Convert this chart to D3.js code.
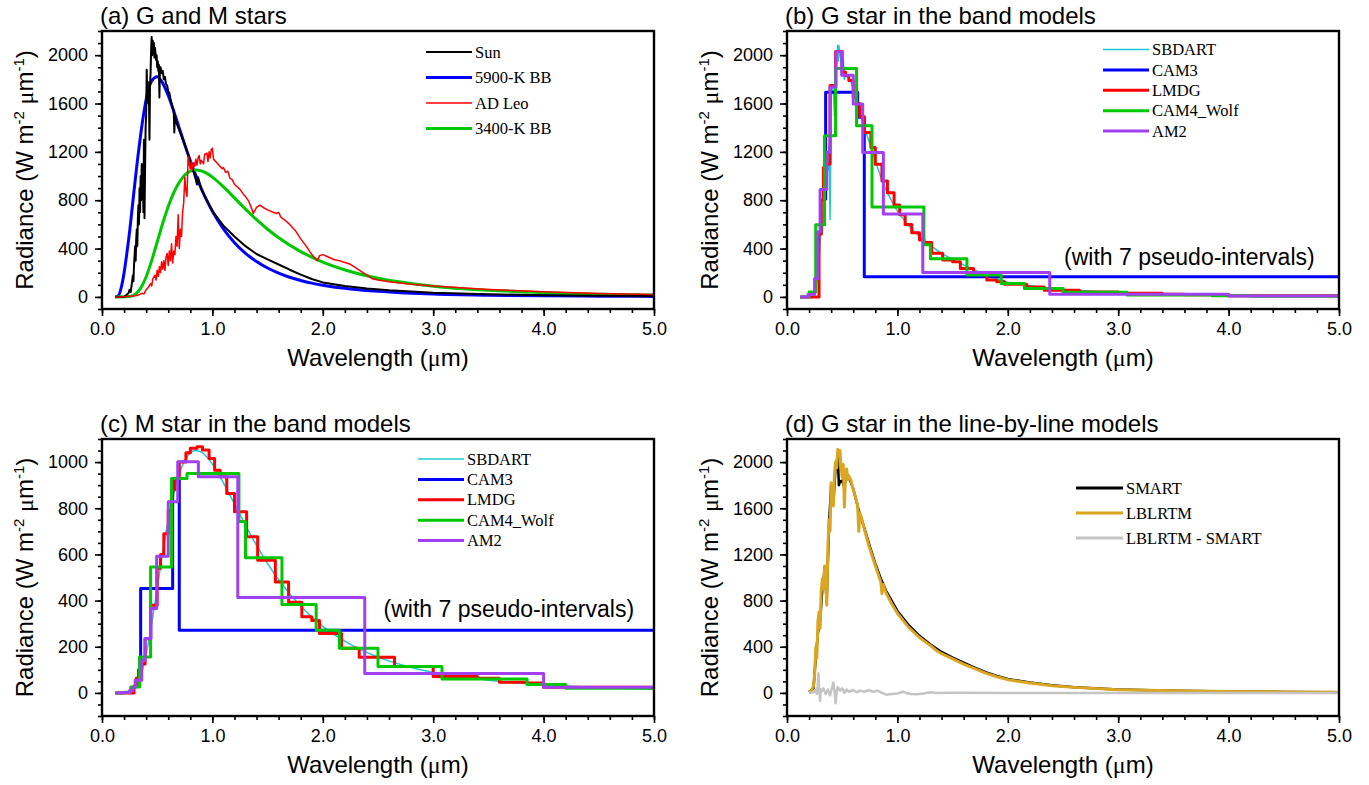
<!DOCTYPE html>
<html><head><meta charset="utf-8">
<script src="https://cdn.jsdelivr.net/npm/d3@7"></script>
<style>body{margin:0;background:#fff}</style>
</head><body>
<svg id="chart" width="1369" height="785"></svg>
<script>
// ---------------- DATA (wavelength in µm, radiance in W m-2 µm-1) ----------------
const xTickLabels = [0, 1, 2, 3, 4, 5];
const yTicksG = [0, 400, 800, 1200, 1600, 2000];
const yTicksM = [0, 200, 400, 600, 800, 1000];

// (a) G and M stars
const sunSpectrum = [[0.12,0],[0.2,0],[0.22,15],[0.24,30],[0.25,60],[0.26,40],[0.27,110],[0.28,180],[0.285,130],[0.29,260],[0.3,420],[0.305,300],[0.31,480],[0.315,560],[0.32,420],[0.325,650],[0.33,760],[0.335,600],[0.34,900],[0.345,700],[0.35,1000],[0.355,800],[0.36,1100],[0.365,900],[0.37,1050],[0.375,700],[0.38,1300],[0.383,1100],[0.385,650],[0.39,1050],[0.395,1400],[0.4,1500],[0.405,1880],[0.41,1650],[0.415,1780],[0.42,1600],[0.425,1700],[0.43,1300],[0.435,1750],[0.44,1850],[0.445,2050],[0.45,2150],[0.455,2000],[0.46,2120],[0.465,2050],[0.47,2100],[0.475,1980],[0.48,2060],[0.49,1960],[0.495,2000],[0.5,1900],[0.505,1950],[0.51,1870],[0.515,1920],[0.52,1650],[0.525,1880],[0.53,1900],[0.54,1850],[0.55,1870],[0.56,1800],[0.57,1820],[0.58,1760],[0.59,1750],[0.6,1700],[0.61,1690],[0.62,1640],[0.63,1600],[0.64,1560],[0.65,1540],[0.655,1360],[0.66,1500],[0.67,1450],[0.7,1380],[0.75,1260],[0.8,1120],[0.85,970],[0.86,930],[0.87,990],[0.9,890],[0.95,800],[1.0,710],[1.1,590],[1.2,500],[1.3,420],[1.4,355],[1.5,310],[1.6,268],[1.7,225],[1.8,185],[1.9,148],[2.0,120],[2.2,90],[2.4,70],[2.6,55],[3.0,35],[3.5,22],[4.0,14],[4.5,10],[5.0,7]];
const bb5900 = [[0.12,0],[0.15,12],[0.175,80],[0.2,200],[0.225,360],[0.25,540],[0.275,750],[0.3,960],[0.325,1160],[0.35,1340],[0.375,1500],[0.4,1633],[0.45,1788],[0.5,1822],[0.55,1768],[0.6,1666],[0.65,1536],[0.7,1396],[0.75,1258],[0.8,1127],[0.85,1005],[0.9,895],[0.95,796],[1.0,709],[1.1,563],[1.2,449],[1.3,361],[1.4,293],[1.5,239],[1.6,197],[1.7,163],[1.8,136],[1.9,114],[2.0,97],[2.25,66],[2.5,46],[2.75,33],[3.0,24],[3.5,14],[4.0,8.6],[4.5,6],[5.0,3.8]];
const adLeo = [[0.12,0],[0.2,2],[0.25,5],[0.3,10],[0.33,15],[0.36,30],[0.38,25],[0.4,60],[0.42,80],[0.44,110],[0.45,90],[0.46,150],[0.48,180],[0.49,140],[0.5,220],[0.51,170],[0.52,250],[0.53,200],[0.54,290],[0.55,230],[0.56,300],[0.57,220],[0.58,330],[0.59,360],[0.6,260],[0.61,380],[0.62,300],[0.63,440],[0.64,280],[0.65,380],[0.66,350],[0.67,500],[0.68,420],[0.69,680],[0.7,400],[0.71,560],[0.72,500],[0.73,700],[0.74,780],[0.75,990],[0.76,880],[0.77,830],[0.78,1160],[0.79,1100],[0.8,1060],[0.81,1120],[0.82,1050],[0.83,1110],[0.84,1080],[0.85,1140],[0.86,1090],[0.87,1150],[0.88,1170],[0.89,1100],[0.9,1130],[0.92,1100],[0.93,1180],[0.95,1190],[0.96,1120],[0.97,1200],[0.98,1150],[0.99,1220],[1.0,1230],[1.01,1140],[1.03,1120],[1.05,1100],[1.07,1080],[1.09,1060],[1.1,1070],[1.12,1030],[1.14,1040],[1.16,980],[1.18,970],[1.2,930],[1.22,915],[1.25,890],[1.28,850],[1.3,830],[1.33,790],[1.36,720],[1.37,690],[1.4,740],[1.43,760],[1.46,740],[1.5,720],[1.55,700],[1.58,690],[1.6,700],[1.62,660],[1.65,640],[1.7,600],[1.75,550],[1.8,480],[1.85,420],[1.9,350],[1.95,300],[1.97,340],[2.0,350],[2.05,330],[2.1,310],[2.15,300],[2.2,285],[2.25,270],[2.3,240],[2.35,210],[2.4,180],[2.45,150],[2.5,140],[2.6,125],[2.8,105],[3.0,90],[3.5,62],[4.0,42],[4.5,28],[5.0,20]];
const bb3400 = [[0.12,0],[0.25,3],[0.3,21],[0.35,72],[0.4,167],[0.45,300],[0.5,454],[0.55,609],[0.6,748],[0.65,863],[0.7,949],[0.75,1008],[0.8,1040],[0.85,1050],[0.9,1043],[0.95,1022],[1.0,991],[1.1,910],[1.2,819],[1.3,726],[1.4,639],[1.5,560],[1.6,490],[1.8,375],[2.0,288],[2.25,210],[2.5,155],[2.75,117],[3.0,89],[3.5,55],[4.0,35],[4.5,23],[5.0,16]];

// (b) G star in the band models
const sbdartG = [[0.12,0],[0.2,0],[0.22,10],[0.25,40],[0.27,120],[0.29,300],[0.3,450],[0.31,560],[0.32,520],[0.33,800],[0.34,900],[0.35,1000],[0.36,1200],[0.37,1050],[0.38,1250],[0.385,1000],[0.39,640],[0.395,1100],[0.4,1650],[0.41,1750],[0.42,1700],[0.43,1500],[0.44,1800],[0.45,1950],[0.46,2080],[0.465,1950],[0.47,2080],[0.48,2000],[0.49,1950],[0.5,1880],[0.51,1960],[0.52,1800],[0.53,1850],[0.55,1820],[0.58,1780],[0.6,1720],[0.65,1560],[0.7,1400],[0.75,1270],[0.8,1130],[0.85,990],[0.9,880],[0.95,790],[1.0,710],[1.1,590],[1.2,500],[1.3,425],[1.4,360],[1.5,310],[1.6,265],[1.7,222],[1.8,185],[1.9,150],[2.0,122],[2.2,92],[2.4,70],[2.6,55],[3.0,35],[3.5,22],[4.0,14],[4.5,10],[5.0,7]];
const cam3Edges = [0.35, 0.64, 0.70, 5.0];
const cam3G = [1694, 1486, 167];
const cam3GStart = 800;
const lmdgEdges = [0.12,0.29,0.31,0.33,0.35,0.39,0.44,0.5,0.53,0.56,0.6,0.63,0.66,0.7,0.76,0.8,0.86,0.91,0.97,1.02,1.07,1.13,1.2,1.24,1.31,1.41,1.5,1.57,1.69,1.81,1.9,1.97,2.17,2.33,2.65,3.0,3.4,3.6,3.85,4.0,5.0];
const lmdgG = [0,520,800,1070,1100,1750,2030,1860,1830,1790,1650,1600,1490,1361,1236,1097,958,861,760,680,600,530,470,450,361,306,290,236,190,140,125,105,83,55,40,30,22,18,15,10];
const cam4Edges = [0.12,0.2,0.26,0.34,0.44,0.63,0.77,1.24,1.3,1.63,1.94,2.15,2.5,3.08,3.85,4.2,5.0];
const cam4G = [0,40,597,1333,1889,1417,744,431,315,181,111,69,38,16,10,5];
const am2Edges = [0.12,0.19,0.25,0.28,0.30,0.36,0.39,0.444,0.495,0.6,0.686,0.873,1.23,2.38,4.0,5.0];
const am2G = [0,20,153,540,889,1194,1736,2028,1833,1597,1194,686,203,22,8];

// (c) M star in the band models
const sbdartM = [[0.12,0],[0.25,3],[0.3,21],[0.35,72],[0.4,167],[0.45,300],[0.5,454],[0.55,609],[0.6,748],[0.65,863],[0.7,949],[0.75,1008],[0.8,1040],[0.85,1050],[0.9,1043],[0.95,1022],[1.0,991],[1.1,910],[1.2,819],[1.3,726],[1.4,639],[1.5,560],[1.6,490],[1.8,375],[2.0,288],[2.25,210],[2.5,155],[2.75,117],[3.0,89],[3.5,55],[4.0,35],[4.5,23],[5.0,16]];
const cam3M = [452, 922, 272];
const cam3MStart = 140;
const lmdgM = [0,30,64,100,125,235,380,540,600,690,790,880,930,1000,1040,1060,1066,1052,1016,965,936,864,785,785,676,575,575,481,393,330,314,257,193,155,114,71,64,46,43,25];
const cam4M = [0,3,26,156,546,929,951,743,586,383,271,193,114,60,36,20];
const am2M = [0,2,10,25,55,142,236,366,592,828,1001,936,413,84,25];

// (d) G star in the line-by-line models
const smart = [[0.2,8],[0.24,40],[0.26,300],[0.28,520],[0.3,620],[0.32,900],[0.34,1050],[0.36,800],[0.38,1450],[0.4,1800],[0.42,1650],[0.44,1950],[0.46,2050],[0.47,1800],[0.48,1830],[0.5,1840],[0.52,1780],[0.54,1900],[0.56,1870],[0.6,1770],[0.65,1580],[0.7,1430],[0.75,1270],[0.8,1120],[0.85,990],[0.9,880],[1.0,710],[1.1,590],[1.2,495],[1.3,420],[1.4,355],[1.5,305],[1.6,262],[1.7,220],[1.8,180],[1.9,147],[2.0,120],[2.2,90],[2.4,66],[2.6,50],[3.0,30],[3.5,19],[4.0,13],[4.5,9],[5.0,6]];
const lblrtm = [[0.2,10],[0.22,20],[0.24,58],[0.25,150],[0.26,390],[0.27,300],[0.28,620],[0.29,700],[0.3,560],[0.31,880],[0.32,990],[0.33,900],[0.34,1100],[0.35,1000],[0.36,760],[0.37,1250],[0.38,1500],[0.39,1400],[0.4,1820],[0.41,1750],[0.42,1620],[0.43,1900],[0.44,2000],[0.45,1950],[0.46,2110],[0.47,2050],[0.48,2100],[0.49,1960],[0.5,1870],[0.51,1980],[0.52,1610],[0.53,1900],[0.54,1940],[0.55,1850],[0.56,1880],[0.58,1840],[0.6,1760],[0.62,1700],[0.64,1620],[0.65,1400],[0.66,1560],[0.68,1500],[0.7,1420],[0.74,1280],[0.78,1160],[0.82,1045],[0.85,960],[0.86,860],[0.87,940],[0.9,860],[0.95,770],[1.0,690],[1.1,570],[1.2,480],[1.3,410],[1.35,370],[1.4,340],[1.5,295],[1.6,250],[1.7,210],[1.8,172],[1.9,140],[2.0,115],[2.2,85],[2.4,62],[2.6,48],[3.0,28],[3.5,18],[4.0,12],[4.5,9],[5.0,6]];
const lblMinusSmart = [[0.2,0],[0.24,5],[0.26,30],[0.27,-10],[0.28,80],[0.285,170],[0.29,60],[0.3,-70],[0.305,30],[0.31,10],[0.33,40],[0.35,-10],[0.37,30],[0.39,-20],[0.41,50],[0.42,90],[0.43,20],[0.44,-90],[0.45,10],[0.46,50],[0.48,20],[0.5,40],[0.52,0],[0.54,30],[0.56,10],[0.6,25],[0.63,5],[0.66,20],[0.7,10],[0.74,25],[0.78,10],[0.82,20],[0.86,0],[0.9,-15],[0.95,-10],[1.0,-5],[1.05,10],[1.08,0],[1.12,-10],[1.18,-12],[1.24,-5],[1.3,5],[1.35,0],[1.5,2],[2.0,0],[3.0,0],[5.0,0]];

// ---------------- DRAWING ----------------
const svg = d3.select('#chart');
const SANS = '"Liberation Sans", Arial, Helvetica, sans-serif';
const SERIF = '"Liberation Serif", "Times New Roman", serif';
const C = {black:'#000000', blue:'#0000ff', red:'#ff0000', green:'#00c800', cyan:'#1ec8d2', purple:'#a040f0', gold:'#daa520', gray:'#c4c4c4'};

function stepPoints(edges, vals, start) {
  const pts = [];
  if (start !== undefined) pts.push([edges[0], start]);
  vals.forEach((v, i) => pts.push([edges[i], v]));
  pts.push([edges[edges.length - 1], vals[vals.length - 1]]);
  return pts;
}

function panel(p) {
  const g = svg.append('g').attr('transform', `translate(${p.x},${p.y})`);
  const x = d3.scaleLinear().domain([0, 5]).range([0, p.w]);
  const y = d3.scaleLinear().domain(p.yDomain).range([p.h, 0]);
  const cid = 'clip' + p.key;
  g.append('clipPath').attr('id', cid).append('rect').attr('width', p.w).attr('height', p.h);
  const plot = g.append('g').attr('clip-path', `url(#${cid})`);

  p.series.forEach(s => {
    const line = d3.line().x(d => x(d[0])).y(d => y(d[1]))
      .curve(s.curve || d3.curveLinear);
    plot.append('path').datum(s.data).attr('d', line)
      .attr('fill', 'none').attr('stroke', s.color).attr('stroke-width', s.width)
      .attr('stroke-linejoin', 'round');
  });

  const styleAxis = sel => {
    sel.select('.domain').remove();
    sel.selectAll('line').attr('stroke', '#000').attr('stroke-width', 1.6);
    sel.selectAll('text').attr('font-family', SANS).attr('font-size', 18).attr('fill', '#000');
  };
  const xMinor = d3.range(0, 5.0001, 0.2).map(v => +v.toFixed(2));
  g.append('g').attr('transform', `translate(0,${p.h})`)
    .call(d3.axisBottom(x).tickValues(xMinor).tickSize(4).tickFormat('')).call(styleAxis);
  g.append('g').attr('transform', `translate(0,${p.h})`)
    .call(d3.axisBottom(x).tickValues(xTickLabels).tickSize(7).tickPadding(6).tickFormat(d3.format('.1f'))).call(styleAxis);
  const yMinor = d3.range(p.yDomain[0], p.yDomain[1] + 0.001, p.yMinor);
  g.append('g').call(d3.axisLeft(y).tickValues(yMinor).tickSize(4).tickFormat('')).call(styleAxis);
  g.append('g').call(d3.axisLeft(y).tickValues(p.yTicks).tickSize(7).tickPadding(7).tickFormat(d3.format('d'))).call(styleAxis);

  g.append('rect').attr('width', p.w).attr('height', p.h)
    .attr('fill', 'none').attr('stroke', '#000').attr('stroke-width', 2.4);

  g.append('text').attr('x', -2).attr('y', -7).attr('font-family', SANS).attr('font-size', 24)
    .text(p.title);

  const xl = g.append('text').attr('x', p.w / 2).attr('y', p.h + 57).attr('text-anchor', 'middle')
    .attr('font-family', SANS).attr('font-size', 24);
  xl.append('tspan').text('Wavelength (');
  xl.append('tspan').attr('font-family', SERIF).text('μ');
  xl.append('tspan').text('m)');

  const yl = g.append('text').attr('transform', `translate(-69,${p.h / 2}) rotate(-90)`)
    .attr('text-anchor', 'middle').attr('font-family', SANS).attr('font-size', 24);
  yl.append('tspan').text('Radiance (W m');
  yl.append('tspan').attr('font-size', 15).attr('dy', -9).text('-2');
  yl.append('tspan').attr('dy', 9).text(' ');
  yl.append('tspan').attr('font-family', SERIF).text('μ');
  yl.append('tspan').text('m');
  yl.append('tspan').attr('font-size', 15).attr('dy', -9).text('-1');
  yl.append('tspan').attr('dy', 9).text(')');

  if (p.note) {
    g.append('text').attr('x', x(p.note.x)).attr('y', y(p.note.y))
      .attr('font-family', SANS).attr('font-size', 23).text(p.note.text);
  }

  const lg = p.legend;
  lg.items.forEach((it, i) => {
    const yy = lg.y0 + i * lg.dy;
    g.append('line').attr('x1', lg.x1).attr('x2', lg.x2).attr('y1', yy).attr('y2', yy)
      .attr('stroke', it.color).attr('stroke-width', it.lw);
    g.append('text').attr('x', lg.x2 + 3).attr('y', yy).attr('dy', '0.34em')
      .attr('font-family', SERIF).attr('font-size', 16.5).text(it.label);
  });
}

const W = 552;
panel({key: 'a', x: 102, y: 31, w: W, h: 278, yDomain: [-100, 2200], yTicks: yTicksG, yMinor: 100,
  title: '(a) G and M stars',
  series: [
    {data: bb5900, color: C.blue, width: 3, curve: d3.curveMonotoneX},
    {data: bb3400, color: C.green, width: 3, curve: d3.curveMonotoneX},
    {data: sunSpectrum, color: C.black, width: 2},
    {data: adLeo, color: C.red, width: 1.5}
  ],
  legend: {x1: 324, x2: 370, y0: 21, dy: 25.5, items: [
    {label: 'Sun', color: C.black, lw: 2},
    {label: '5900-K BB', color: C.blue, lw: 3},
    {label: 'AD Leo', color: C.red, lw: 1.5},
    {label: '3400-K BB', color: C.green, lw: 3}]}
});

panel({key: 'b', x: 787, y: 31, w: W, h: 278, yDomain: [-100, 2200], yTicks: yTicksG, yMinor: 100,
  title: '(b) G star in the band models',
  note: {x: 2.51, y: 265, text: '(with 7 pseudo-intervals)'},
  series: [
    {data: sbdartG, color: C.cyan, width: 1.5},
    {data: stepPoints(cam3Edges, cam3G, cam3GStart), color: C.blue, width: 3, curve: d3.curveStepAfter},
    {data: stepPoints(lmdgEdges, lmdgG), color: C.red, width: 3, curve: d3.curveStepAfter},
    {data: stepPoints(cam4Edges, cam4G), color: C.green, width: 3, curve: d3.curveStepAfter},
    {data: stepPoints(am2Edges, am2G), color: C.purple, width: 3, curve: d3.curveStepAfter}
  ],
  legend: {x1: 316, x2: 362, y0: 18.5, dy: 20.4, items: [
    {label: 'SBDART', color: C.cyan, lw: 1.5},
    {label: 'CAM3', color: C.blue, lw: 3},
    {label: 'LMDG', color: C.red, lw: 3},
    {label: 'CAM4_Wolf', color: C.green, lw: 3},
    {label: 'AM2', color: C.purple, lw: 3}]}
});

panel({key: 'c', x: 102, y: 439, w: W, h: 277, yDomain: [-100, 1100], yTicks: yTicksM, yMinor: 50,
  title: '(c) M star in the band models',
  note: {x: 2.55, y: 328, text: '(with 7 pseudo-intervals)'},
  series: [
    {data: sbdartM, color: C.cyan, width: 1.5, curve: d3.curveMonotoneX},
    {data: stepPoints(cam3Edges, cam3M, cam3MStart), color: C.blue, width: 3, curve: d3.curveStepAfter},
    {data: stepPoints(lmdgEdges, lmdgM), color: C.red, width: 3, curve: d3.curveStepAfter},
    {data: stepPoints(cam4Edges, cam4M), color: C.green, width: 3, curve: d3.curveStepAfter},
    {data: stepPoints(am2Edges, am2M), color: C.purple, width: 3, curve: d3.curveStepAfter}
  ],
  legend: {x1: 316, x2: 362, y0: 20, dy: 20.4, items: [
    {label: 'SBDART', color: C.cyan, lw: 1.5},
    {label: 'CAM3', color: C.blue, lw: 3},
    {label: 'LMDG', color: C.red, lw: 3},
    {label: 'CAM4_Wolf', color: C.green, lw: 3},
    {label: 'AM2', color: C.purple, lw: 3}]}
});

panel({key: 'd', x: 787, y: 439, w: W, h: 277, yDomain: [-200, 2200], yTicks: yTicksG, yMinor: 100,
  title: '(d) G star in the line-by-line models',
  series: [
    {data: smart, color: C.black, width: 2.5},
    {data: lblrtm, color: C.gold, width: 3},
    {data: lblMinusSmart, color: C.gray, width: 2.5}
  ],
  legend: {x1: 289, x2: 336, y0: 49, dy: 25, items: [
    {label: 'SMART', color: C.black, lw: 3},
    {label: 'LBLRTM', color: C.gold, lw: 3},
    {label: 'LBLRTM - SMART', color: C.gray, lw: 3}]}
});
</script>
</body></html>
